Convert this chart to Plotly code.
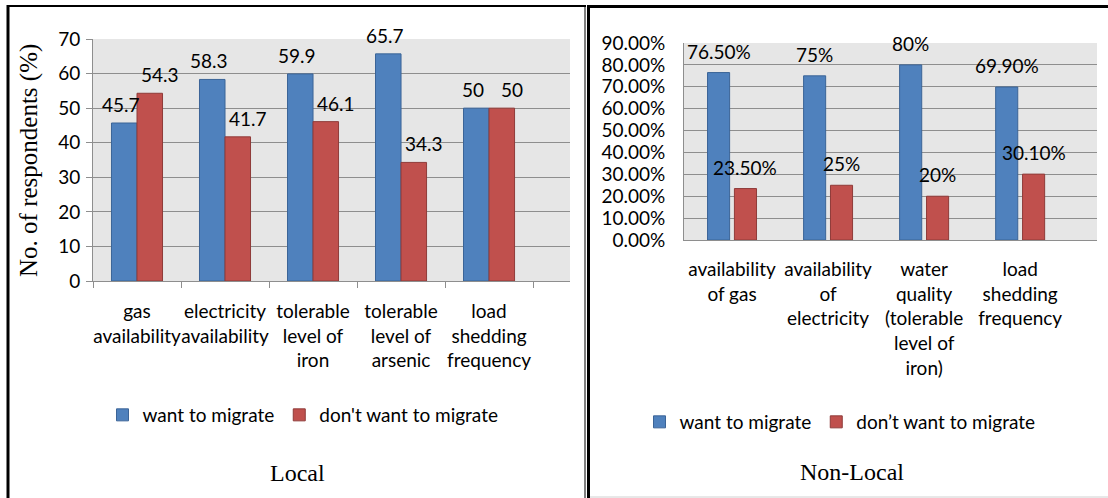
import plotly.graph_objects as go

# ---------------- data ----------------
local_categories = ["gas<br>availability", "electricity<br>availability",
                    "tolerable<br>level of<br>iron", "tolerable<br>level of<br>arsenic",
                    "load<br>shedding<br>frequency"]
local_want = [45.7, 58.3, 59.9, 65.7, 50]
local_dont = [54.3, 41.7, 46.1, 34.3, 50]

nonlocal_categories = ["availability<br>of gas", "availability<br>of<br>electricity",
                       "water<br>quality<br>(tolerable<br>level of<br>iron)",
                       "load<br>shedding<br>frequency"]
nonlocal_want = [76.5, 75, 80, 69.9]
nonlocal_dont = [23.5, 25, 20, 30.1]
nonlocal_want_labels = ["76.50%", "75%", "80%", "69.90%"]
nonlocal_dont_labels = ["23.50%", "25%", "20%", "30.10%"]

series_names_local = ["want to migrate", "don't want to migrate"]
series_names_nonlocal = ["want to migrate", "don\u2019t want to migrate"]

# ---------------- style ----------------
W, H = 1108, 498
BLUE, BLUE_LINE = "#4f81bd", "#3b6497"
RED, RED_LINE = "#c0504d", "#8f3b39"
GRID = "#8e8e8e"
PLOT_BG = "#e6e6e6"
SANS = "Lato"
SERIF = "Liberation Serif"
FS = 19

# bar geometry (in category units)
L_W, L_OFF = 0.29, (-0.29, 0.0)
N_W, N_OFF = 0.23, (-0.255, 0.025)


def px(x):
    return x / W


def py(y):
    return 1 - y / H


fig = go.Figure()

# Local panel bars
for vals, name, col, lcol, off in [(local_want, series_names_local[0], BLUE, BLUE_LINE, L_OFF[0]),
                                   (local_dont, series_names_local[1], RED, RED_LINE, L_OFF[1])]:
    fig.add_trace(go.Bar(x=local_categories, y=vals, name=name,
                         marker=dict(color=col, line=dict(color=lcol, width=1)),
                         width=L_W, offset=off, xaxis="x", yaxis="y", legend="legend"))

# Non-local panel bars
for vals, name, col, lcol, off in [(nonlocal_want, series_names_nonlocal[0], BLUE, BLUE_LINE, N_OFF[0]),
                                   (nonlocal_dont, series_names_nonlocal[1], RED, RED_LINE, N_OFF[1])]:
    fig.add_trace(go.Bar(x=nonlocal_categories, y=vals, name=name,
                         marker=dict(color=col, line=dict(color=lcol, width=1)),
                         width=N_W, offset=off, xaxis="x2", yaxis="y2", legend="legend2"))

labfont = dict(family=SANS, size=FS, color="black")

# data labels (anchored at each bar top through the axes)
for i, v in enumerate(local_want):
    fig.add_annotation(x=i + L_OFF[0] + L_W / 2, y=v, xref="x", yref="y", text=f"{v:g}",
                       showarrow=False, yanchor="bottom", yshift=5, xshift=-3, font=labfont)
for i, v in enumerate(local_dont):
    fig.add_annotation(x=i + L_OFF[1] + L_W / 2, y=v, xref="x", yref="y", text=f"{v:g}",
                       showarrow=False, yanchor="bottom", yshift=5, xshift=10, font=labfont)
for i, (v, t) in enumerate(zip(nonlocal_want, nonlocal_want_labels)):
    fig.add_annotation(x=i + N_OFF[0] + N_W / 2, y=v, xref="x2", yref="y2", text=t,
                       showarrow=False, yanchor="bottom", yshift=8, font=labfont)
for i, (v, t) in enumerate(zip(nonlocal_dont, nonlocal_dont_labels)):
    fig.add_annotation(x=i + N_OFF[1] + N_W / 2, y=v, xref="x2", yref="y2", text=t,
                       showarrow=False, yanchor="bottom", yshift=8, font=labfont)

tickfont = dict(family=SANS, size=FS, color="black")

fig.update_layout(
    width=W, height=H, autosize=False,
    margin=dict(l=0, r=0, t=0, b=0, pad=0, autoexpand=False),
    paper_bgcolor="white",
    plot_bgcolor=PLOT_BG,
    barmode="overlay",
    hovermode=False,
    font=dict(family=SANS, size=FS, color="black"),
    xaxis=dict(domain=[px(93), px(570)], anchor="y", type="category",
               range=[-0.5, 4.92], tickson="boundaries", ticks="outside", ticklen=6,
               tickcolor=GRID, showline=True, linecolor=GRID, linewidth=1,
               showgrid=False, tickfont=tickfont, ticklabelstandoff=13,
               tickangle=0, automargin=False),
    yaxis=dict(domain=[py(281), py(39)], anchor="x", range=[0, 70], dtick=10,
               ticks="outside", ticklen=6, tickcolor=GRID, showline=True,
               linecolor=GRID, linewidth=1, showgrid=True, gridcolor=GRID,
               gridwidth=1, zeroline=False, tickfont=tickfont, ticklabelstandoff=2,
               automargin=False),
    xaxis2=dict(domain=[px(684), px(1097)], anchor="y2", type="category",
                range=[-0.5, 3.80], ticks="", showline=True, linecolor=GRID,
                linewidth=1, showgrid=False, tickfont=tickfont, ticklabelstandoff=12,
                tickangle=0, automargin=False),
    yaxis2=dict(domain=[py(240), py(43)], anchor="x2", range=[0, 90], dtick=10,
                tickformat=".2f", ticksuffix="%", ticks="", showline=True,
                linecolor=GRID, linewidth=1, showgrid=True, gridcolor=GRID,
                gridwidth=1, zeroline=False, tickfont=dict(family=SANS, size=19, color="black"),
                ticklabelstandoff=14, automargin=False),
    legend=dict(orientation="h", x=px(303), xanchor="center", y=py(415),
                yanchor="middle", font=dict(family=SANS, size=FS), itemwidth=30,
                bgcolor="rgba(0,0,0,0)", traceorder="normal"),
    legend2=dict(orientation="h", x=px(840), xanchor="center", y=py(422),
                 yanchor="middle", font=dict(family=SANS, size=FS), itemwidth=30,
                 bgcolor="rgba(0,0,0,0)", traceorder="normal"),
    showlegend=True,
)

fig.add_annotation(text="No. of respondents (%)", xref="paper", yref="paper",
                   x=px(29), y=py(161), textangle=-90, showarrow=False,
                   font=dict(family=SERIF, size=25, color="black"),
                   xanchor="center", yanchor="middle")
fig.add_annotation(text="Local", xref="paper", yref="paper", x=px(297), y=py(473),
                   showarrow=False, font=dict(family=SERIF, size=24, color="black"),
                   xanchor="center", yanchor="middle")
fig.add_annotation(text="Non-Local", xref="paper", yref="paper", x=px(852), y=py(472),
                   showarrow=False, font=dict(family=SERIF, size=24, color="black"),
                   xanchor="center", yanchor="middle")

# panel borders
shapes = [
    dict(type="line", xref="paper", yref="paper", x0=px(7), x1=px(586), y0=py(6), y1=py(6),
         line=dict(color="black", width=2)),
    dict(type="line", xref="paper", yref="paper", x0=px(8), x1=px(8), y0=py(5), y1=py(500),
         line=dict(color="black", width=3)),
    dict(type="line", xref="paper", yref="paper", x0=px(585), x1=px(585), y0=py(6), y1=py(500),
         line=dict(color="black", width=1)),
    dict(type="line", xref="paper", yref="paper", x0=px(588.5), x1=px(588.5), y0=py(6), y1=py(500),
         line=dict(color="black", width=3)),
    dict(type="line", xref="paper", yref="paper", x0=px(587), x1=px(1110), y0=py(6.5), y1=py(6.5),
         line=dict(color="black", width=3)),
    dict(type="line", xref="paper", yref="paper", x0=px(590), x1=px(1110), y0=py(497), y1=py(497),
         line=dict(color="#d0d0d0", width=1)),
]
fig.update_layout(shapes=shapes)

fig.write_html("out.html", config={"displayModeBar": False},
               post_script="document.body.style.margin='0';")
